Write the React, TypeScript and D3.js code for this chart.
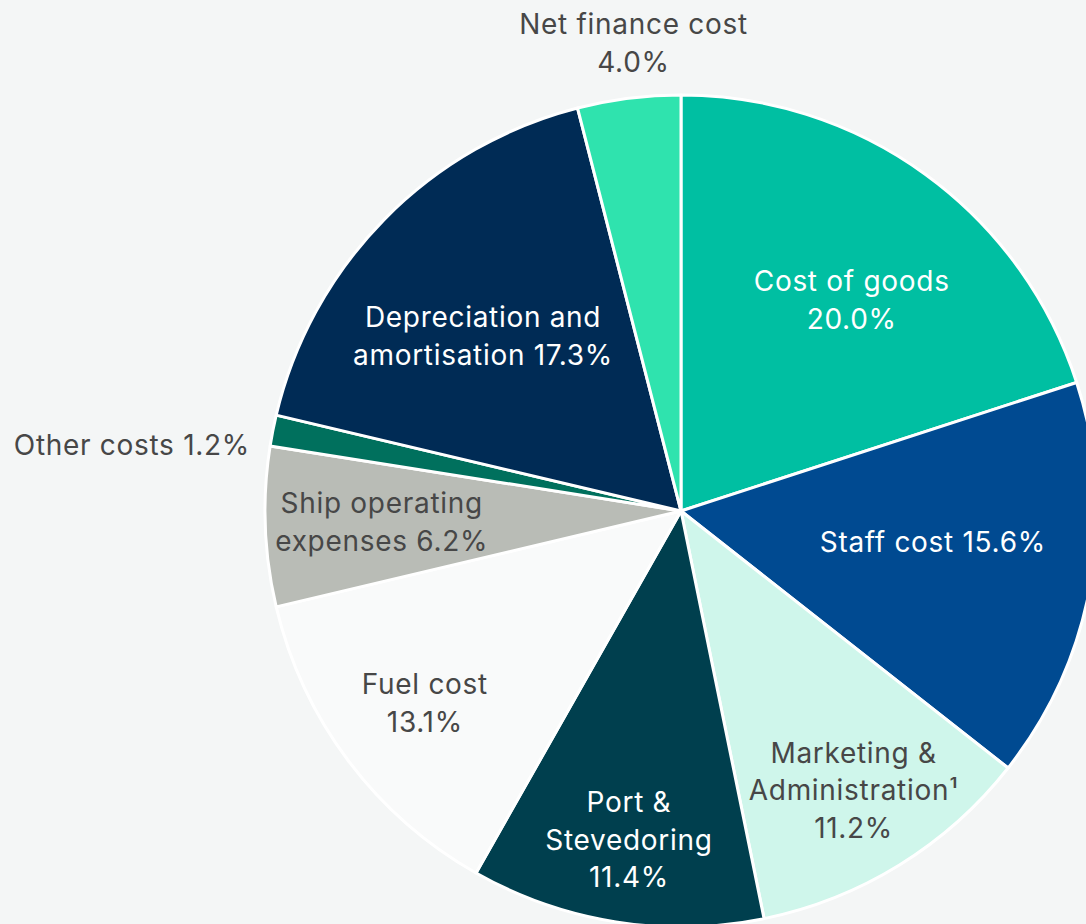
import React, { useEffect, useRef } from "react";
import * as d3 from "d3";

// slice order, clockwise from 12 o'clock
const categories = [
  "Cost of goods",
  "Staff cost",
  "Marketing & Administration",
  "Port & Stevedoring",
  "Fuel cost",
  "Ship operating expenses",
  "Other costs",
  "Depreciation and amortisation",
  "Net finance cost",
];
const shares = [20.0, 15.6, 11.2, 11.4, 13.1, 6.2, 1.2, 17.3, 4.0];
const sliceColors = [
  "#00bfa2",
  "#004a91",
  "#cff6eb",
  "#003f4e",
  "#f9fafa",
  "#b9bcb6",
  "#00705d",
  "#002b55",
  "#2fe3ae",
];
// label lines, "{v}" replaced by the share
const labelLines = [
  ["Cost of goods", "{v}"],
  ["Staff cost {v}"],
  ["Marketing &", "Administration¹", "{v}"],
  ["Port &", "Stevedoring", "{v}"],
  ["Fuel cost", "{v}"],
  ["Ship operating", "expenses {v}"],
  ["Other costs {v}"],
  ["Depreciation and", "amortisation {v}"],
  ["Net finance cost", "{v}"],
];

const W = 1086;
const H = 924;
const BG = "#f4f6f6";

const App = () => {
  const svgRef = useRef<SVGSVGElement>(null);

  useEffect(() => {
    document.body.style.margin = "0";
    document.body.style.background = BG;

    const cx = 681;
    const cy = 511;
    const R = 416;
    const lineH = 37.5;
    // label radius as fraction of R, and angle nudge in degrees
    const labelR = [0.652, 0.61, 0.79, 0.8, 0.77, 0.72, 1.0, 0.635, 1.13];
    const labelTurn = [3, -3, 0, 0, 0, 0, 0, -3, 1.4];
    const darkText = "#474747";

    const svg = d3.select(svgRef.current).attr("width", W).attr("height", H);
    svg.selectAll("*").remove();

    svg.append("rect").attr("width", W).attr("height", H).attr("fill", BG);

    const pie = d3
      .pie<number>()
      .value((d) => d)
      .sort(null)
      .startAngle(0)
      .endAngle(2 * Math.PI);

    const arcs = pie(shares);
    const arc = d3.arc<d3.PieArcDatum<number>>().innerRadius(0).outerRadius(R);

    const g = svg.append("g").attr("transform", `translate(${cx},${cy})`);

    g.selectAll("path.slice")
      .data(arcs)
      .join("path")
      .attr("class", "slice")
      .attr("d", arc)
      .attr("fill", (d, i) => sliceColors[i])
      .attr("stroke", "#ffffff")
      .attr("stroke-width", 3)
      .attr("stroke-linejoin", "round");

    const isDark = (c: string) => d3.hsl(c).l < 0.45;

    arcs.forEach((d, i) => {
      const mid = (d.startAngle + d.endAngle) / 2 + (labelTurn[i] * Math.PI) / 180;
      let x = Math.sin(mid) * R * labelR[i];
      let y = -Math.cos(mid) * R * labelR[i];
      let anchor = "middle";
      let fill = isDark(sliceColors[i]) ? "#ffffff" : darkText;
      if (i === 6) {
        // other costs sits outside the pie to the left
        x = 250 - cx;
        y = 445 - cy;
        anchor = "end";
        fill = darkText;
      }
      if (i === 8) fill = darkText;
      const lines = labelLines[i].map((l) =>
        l.replace("{v}", `${shares[i].toFixed(1)}%`)
      );
      const t = g
        .append("text")
        .attr("text-anchor", anchor)
        .attr("font-family", "Inter, 'Open Sans', sans-serif")
        .attr("font-size", 28)
        .attr("letter-spacing", 0.7)
        .attr("fill", fill);
      const y0 = y - ((lines.length - 1) * lineH) / 2;
      lines.forEach((l, k) => {
        t.append("tspan")
          .attr("x", x)
          .attr("y", y0 + k * lineH)
          .attr("dy", "0.35em")
          .text(l);
      });
    });
  }, []);

  return <svg ref={svgRef} style={{ display: "block" }} />;
};

export default App;
